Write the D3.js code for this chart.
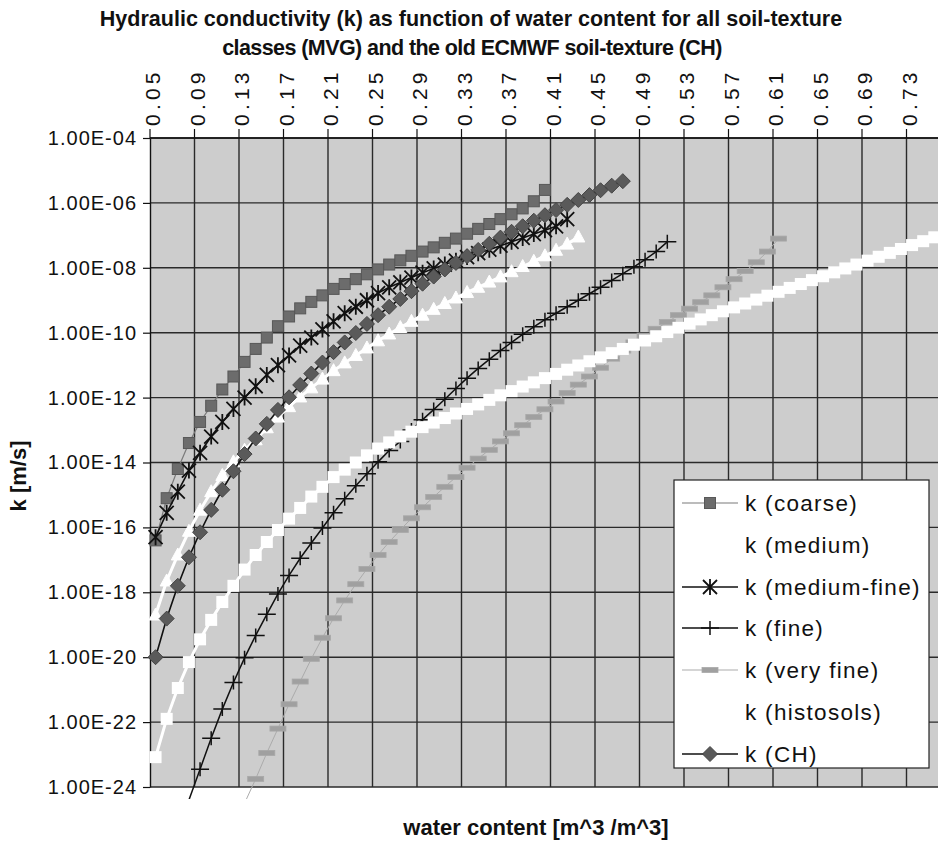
<!DOCTYPE html>
<html><head><meta charset="utf-8">
<script src="https://cdn.jsdelivr.net/npm/d3@7/dist/d3.min.js"></script>
<style>body{margin:0;background:#fff}svg{display:block}</style>
</head><body><svg id="c" width="938" height="844"></svg>
<script>
// ---------- data ----------
const waterContent = [0.05,0.06,0.07,0.08,0.09,0.10,0.11,0.12,0.13,0.14,0.15,0.16,0.17,0.18,0.19,0.20,
  0.21,0.22,0.23,0.24,0.25,0.26,0.27,0.28,0.29,0.30,0.31,0.32,0.33,0.34,0.35,0.36,0.37,0.38,0.39,0.40,
  0.41,0.42,0.43,0.44,0.45,0.46,0.47,0.48,0.49,0.50,0.51,0.52,0.53,0.54,0.55,0.56,0.57,0.58,0.59,0.60,
  0.61,0.62,0.63,0.64,0.65,0.66,0.67,0.68,0.69,0.70,0.71,0.72,0.73,0.74,0.75];
const xTickLabels = ["0.05","0.09","0.13","0.17","0.21","0.25","0.29","0.33","0.37","0.41","0.45","0.49","0.53","0.57","0.61","0.65","0.69","0.73"];
const yTickValues = [1e-4,1e-6,1e-8,1e-10,1e-12,1e-14,1e-16,1e-18,1e-20,1e-22,1e-24];
const yTickLabels = ["1.00E-04","1.00E-06","1.00E-08","1.00E-10","1.00E-12","1.00E-14","1.00E-16","1.00E-18","1.00E-20","1.00E-22","1.00E-24"];
const seriesNames = ["k (coarse)","k (medium)","k (medium-fine)","k (fine)","k (very fine)","k (histosols)","k (CH)"];

// log10 of k [m/s], one value per water-content step, starting at the given water content
const coarseStart = 0.05;
const coarseLogK = [-16.4,-15.1,-14.2,-13.4,-12.75,-12.25,-11.75,-11.35,-10.9,-10.5,-10.15,-9.8,-9.5,-9.25,-9.05,-8.85,
  -8.65,-8.5,-8.35,-8.2,-8.05,-7.9,-7.77,-7.63,-7.5,-7.37,-7.23,-7.1,-6.95,-6.8,-6.65,-6.5,-6.35,-6.17,-5.95,-5.6];
const mediumStart = 0.05;
const mediumLogK = [-18.7,-17.65,-16.85,-16.12,-15.47,-14.9,-14.4,-13.98,-13.62,-13.3,-12.93,-12.6,-12.28,-11.98,-11.7,
  -11.43,-11.17,-10.93,-10.7,-10.47,-10.25,-10.04,-9.84,-9.65,-9.46,-9.28,-9.1,-8.93,-8.76,-8.6,-8.44,-8.28,-8.12,
  -7.96,-7.8,-7.63,-7.46,-7.27,-7.05];
const mediumFineStart = 0.05;
const mediumFineLogK = [-16.3,-15.55,-14.9,-14.25,-13.7,-13.2,-12.75,-12.35,-12.0,-11.65,-11.3,-11.0,-10.7,-10.4,-10.15,
  -9.9,-9.65,-9.4,-9.2,-9.0,-8.78,-8.6,-8.45,-8.3,-8.15,-8.02,-7.9,-7.78,-7.67,-7.55,-7.44,-7.32,-7.2,-7.08,-6.96,
  -6.84,-6.72,-6.5];
const fineStart = 0.08;
const fineLogK = [-24.4,-23.45,-22.5,-21.6,-20.78,-20.02,-19.33,-18.68,-18.05,-17.48,-16.95,-16.48,-16.02,-15.55,-15.12,
  -14.72,-14.35,-13.98,-13.63,-13.35,-13.0,-12.68,-12.37,-12.05,-11.72,-11.4,-11.1,-10.82,-10.55,-10.3,-10.05,-9.82,
  -9.6,-9.4,-9.2,-9.0,-8.8,-8.6,-8.39,-8.18,-7.97,-7.75,-7.5,-7.2];
const veryFineStart = 0.13;
const veryFineLogK = [-24.5,-23.75,-22.95,-22.2,-21.45,-20.75,-20.05,-19.4,-18.8,-18.25,-17.75,-17.28,-16.85,-16.45,
  -16.08,-15.72,-15.38,-15.06,-14.75,-14.45,-14.16,-13.88,-13.61,-13.35,-13.1,-12.85,-12.6,-12.36,-12.12,-11.86,-11.6,
  -11.35,-11.08,-10.8,-10.55,-10.3,-10.09,-9.88,-9.67,-9.46,-9.26,-9.06,-8.85,-8.6,-8.35,-8.1,-7.83,-7.5,-7.1];
const histosolsStart = 0.05;
const histosolsLogK = [-23.08,-21.9,-20.95,-20.15,-19.45,-18.85,-18.3,-17.8,-17.3,-16.85,-16.45,-16.08,-15.73,-15.4,
  -15.05,-14.75,-14.45,-14.22,-14.0,-13.78,-13.57,-13.38,-13.2,-13.05,-12.91,-12.77,-12.63,-12.49,-12.35,-12.21,-12.07,
  -11.93,-11.8,-11.66,-11.53,-11.4,-11.27,-11.14,-11.01,-10.88,-10.76,-10.63,-10.5,-10.37,-10.24,-10.11,-9.98,-9.85,
  -9.72,-9.59,-9.46,-9.34,-9.22,-9.1,-8.98,-8.86,-8.74,-8.62,-8.5,-8.38,-8.26,-8.14,-8.02,-7.9,-7.78,-7.66,-7.54,
  -7.42,-7.3,-7.18,-7.06];
const chStart = 0.05;
const chLogK = [-20.0,-18.81,-17.8,-16.92,-16.15,-15.46,-14.84,-14.27,-13.74,-13.26,-12.81,-12.38,-11.99,-11.61,-11.26,
  -10.92,-10.6,-10.3,-10.01,-9.73,-9.46,-9.2,-8.96,-8.72,-8.49,-8.27,-8.05,-7.85,-7.64,-7.45,-7.26,-7.07,-6.89,-6.72,
  -6.55,-6.38,-6.22,-6.06,-5.91,-5.76,-5.61,-5.47,-5.33];

// ---------- drawing ----------
const svg = d3.select("#c");
const W = 938, H = 844;
const L = 150, T = 138, B = 787;
const step = 11.125;
const SANS = "Liberation Sans, Arial, sans-serif";

const x = d3.scaleBand().domain(waterContent).range([L, L + waterContent.length * step]).padding(0);
const y = d3.scaleLog().domain([1e-24, 1e-4]).range([B, T]);
const cx = v => x(v) + x.bandwidth() / 2;

svg.append("rect").attr("width", W).attr("height", H).attr("fill", "#fff");

// plot background
svg.append("rect").attr("x", L).attr("y", T).attr("width", W - L).attr("height", B - T).attr("fill", "#cdcdcd");

// major grid
const gGrid = svg.append("g").attr("stroke", "#2a2a2a").attr("stroke-width", 1.4);
waterContent.forEach((v, i) => { if (i % 4 === 0 && i > 0) gGrid.append("line").attr("x1", x(v)).attr("x2", x(v)).attr("y1", T).attr("y2", B); });
yTickValues.forEach(v => gGrid.append("line").attr("x1", L).attr("x2", W).attr("y1", y(v)).attr("y2", y(v)));

// top axis ticks + labels
const gTop = svg.append("g");
gTop.append("line").attr("x1", L).attr("x2", W).attr("y1", T).attr("y2", T).attr("stroke", "#111").attr("stroke-width", 1.4);
xTickLabels.forEach((lab, j) => {
  const v = waterContent[j * 4];
  const xb = x(v);
  gTop.append("line").attr("x1", xb).attr("x2", xb).attr("y1", T - 9).attr("y2", T).attr("stroke", "#111").attr("stroke-width", 1.2);
  gTop.append("text").attr("transform", `translate(${xb + 10},126) rotate(-90)`)
    .attr("font-family", SANS).attr("font-size", 21).attr("letter-spacing", 4.2)
    .attr("fill", "#111").text(lab);
});

// left axis
const yAxis = d3.axisLeft(y).tickValues(yTickValues).tickSize(7).tickSizeOuter(0)
  .tickFormat((d, i) => yTickLabels[i]);
const gY = svg.append("g").attr("transform", `translate(${L},0)`).call(yAxis);
gY.select(".domain").attr("stroke", "#111").attr("stroke-width", 1.4);
gY.selectAll(".tick line").attr("stroke", "#111").attr("stroke-width", 1.2);
gY.selectAll(".tick text").attr("font-family", SANS).attr("font-size", 20)
  .attr("letter-spacing", 1).attr("fill", "#111").attr("x", -13);

// clip
svg.append("clipPath").attr("id", "clip").append("rect").attr("x", 140).attr("y", 128).attr("width", W - 140).attr("height", 799 - 128);

function markerPath(type) {
  switch (type) {
    case "star": return "M-7,-7L7,7M-7,7L7,-7M0,-8V8";
    case "plus": return "M-9,0H9M0,-7V7";
    case "diamond": return "M0,-7.5L7.5,0L0,7.5L-7.5,0Z";
    case "triangle": return "M0,-7L6.5,5L-6.5,5Z";
    default: return "";
  }
}
function drawMarker(g, type, st, px, py) {
  if (type === "square") {
    g.append("rect").attr("x", px - 5.5).attr("y", py - 5.5).attr("width", 11).attr("height", 11)
      .attr("fill", st.mfill).attr("stroke", st.mstroke).attr("stroke-width", 1);
  } else if (type === "dash") {
    g.append("rect").attr("x", px - 8).attr("y", py - 2.5).attr("width", 16).attr("height", 5)
      .attr("fill", st.mfill).attr("stroke", st.mstroke).attr("stroke-width", 0.8);
  } else if (type === "whitesq") {
    g.append("rect").attr("x", px - 6).attr("y", py - 6).attr("width", 12).attr("height", 12).attr("fill", "#fff");
  } else {
    g.append("path").attr("d", markerPath(type)).attr("transform", `translate(${px},${py})`)
      .attr("fill", st.mfill).attr("stroke", st.mstroke).attr("stroke-width", st.msw);
  }
}

const series = [
  { name: seriesNames[0], start: coarseStart, logk: coarseLogK, line: "#7a7a7a", lw: 1.2, marker: "square", mfill: "#6c6c6c", mstroke: "#585858", msw: 1 },
  { name: seriesNames[1], start: mediumStart, logk: mediumLogK, line: "#ffffff", lw: 3, marker: "triangle", mfill: "#ffffff", mstroke: "#ffffff", msw: 1 },
  { name: seriesNames[2], start: mediumFineStart, logk: mediumFineLogK, line: "#111", lw: 1.6, marker: "star", mfill: "none", mstroke: "#111", msw: 1.8 },
  { name: seriesNames[3], start: fineStart, logk: fineLogK, line: "#111", lw: 1.5, marker: "plus", mfill: "none", mstroke: "#111", msw: 1.5 },
  { name: seriesNames[4], start: veryFineStart, logk: veryFineLogK, line: "#ababab", lw: 1, marker: "dash", mfill: "#a0a0a0", mstroke: "#a8a8a8", msw: 0.8 },
  { name: seriesNames[5], start: histosolsStart, logk: histosolsLogK, line: "#ffffff", lw: 3, marker: "whitesq", mfill: "#fff", mstroke: "#fff", msw: 1 },
  { name: seriesNames[6], start: chStart, logk: chLogK, line: "#111", lw: 1.6, marker: "diamond", mfill: "#5a5a5a", mstroke: "#444", msw: 1 }
];

const gData = svg.append("g").attr("clip-path", "url(#clip)");
const lineGen = d3.line().x(d => cx(d.wc)).y(d => y(d.k));
series.forEach(s => {
  const i0 = waterContent.indexOf(s.start);
  const pts = s.logk.map((lk, i) => ({ wc: waterContent[i0 + i], k: Math.pow(10, lk) }));
  const g = gData.append("g");
  g.append("path").attr("d", lineGen(pts)).attr("fill", "none").attr("stroke", s.line).attr("stroke-width", s.lw);
  pts.filter(p => p.k >= 1e-24).forEach(p => drawMarker(g, s.marker, s, cx(p.wc), y(p.k)));
});

// legend
const lg = svg.append("g");
lg.append("rect").attr("x", 674).attr("y", 480).attr("width", 255).attr("height", 288)
  .attr("fill", "#fff").attr("stroke", "#222").attr("stroke-width", 1.2);
const rowY = [503, 545, 587, 628, 670, 712, 754];
series.forEach((s, i) => {
  const yy = rowY[i];
  lg.append("line").attr("x1", 682).attr("x2", 738).attr("y1", yy).attr("y2", yy).attr("stroke", s.line).attr("stroke-width", s.lw);
  drawMarker(lg, s.marker, s, 710, yy);
  lg.append("text").attr("x", 745).attr("y", yy + 8).attr("font-family", SANS)
    .attr("font-size", 22.5).attr("letter-spacing", 1.3).attr("fill", "#111").text(s.name);
});

// titles: condensed bold, same horizontal squeeze on both lines
const titleLines = ["Hydraulic conductivity (k) as function of water content for all soil-texture",
                    "classes (MVG) and the old ECMWF soil-texture (CH)"];
function titleText(txt) {
  return svg.append("text").attr("text-anchor", "middle").attr("font-family", SANS).attr("font-weight", "bold")
    .attr("font-size", 22).attr("fill", "#111").text(txt);
}
const t1 = titleText(titleLines[0]);
const sx = 743 / t1.node().getComputedTextLength();
t1.attr("transform", `translate(471,26) scale(${sx},1)`);
const t2 = titleText(titleLines[1]);
const w2 = t2.node().getComputedTextLength();
const ls2 = Math.max(-0.6, (450 / sx - w2) / titleLines[1].length);
t2.attr("letter-spacing", ls2).attr("transform", `translate(472,55) scale(${sx},1)`);

svg.append("text").attr("x", 536).attr("y", 835).attr("text-anchor", "middle")
  .attr("font-family", SANS).attr("font-weight", "bold").attr("font-size", 22)
  .attr("fill", "#111").text("water content [m^3 /m^3]");
svg.append("text").attr("transform", "translate(26,476) rotate(-90)").attr("text-anchor", "middle")
  .attr("font-family", SANS).attr("font-weight", "bold").attr("font-size", 22)
  .attr("fill", "#111").text("k [m/s]");
</script></body></html>
